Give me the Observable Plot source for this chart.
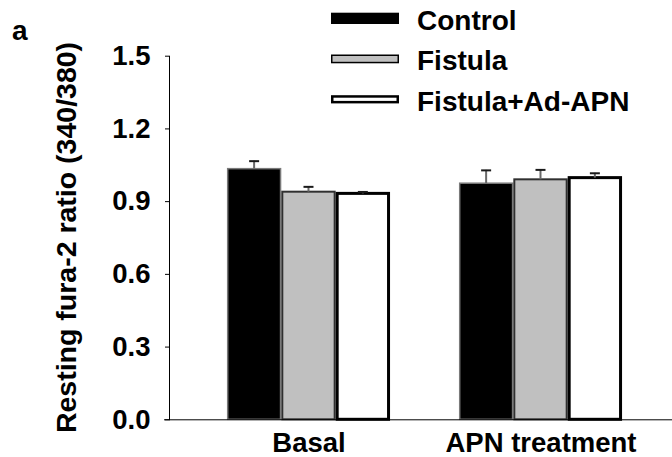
<!DOCTYPE html>
<html><head><meta charset="utf-8">
<script src="https://cdn.jsdelivr.net/npm/d3@7"></script>
<script src="https://cdn.jsdelivr.net/npm/@observablehq/plot@0.6"></script>
<style>body{margin:0;background:#fff} #chart{width:672px;height:457px}</style>
</head><body><div id="chart"></div>
<script>
const groups = ["Basal", "APN treatment"];
const series = ["Control", "Fistula", "Fistula+Ad-APN"];
const basalValues = [1.034, 0.939, 0.932];
const basalErrors = [0.033, 0.022, 0.008];
const apnValues = [0.974, 0.990, 0.997];
const apnErrors = [0.055, 0.041, 0.020];
const yTicks = [0, 0.3, 0.6, 0.9, 1.2, 1.5];
const yLabel = "Resting fura-2 ratio (340/380)";
const panelLabel = "a";

const data = [];
groups.forEach((g, gi) => series.forEach((s, si) => data.push({
  group: g, series: s,
  value: (gi ? apnValues : basalValues)[si],
  error: (gi ? apnErrors : basalErrors)[si]
})));

const FONT = "'Liberation Sans', Arial, Helvetica, sans-serif";
const W = 672, H = 457, mL = 169, mR = 0, mT = 55.7, mB = 37.7;
const padInner = 0.297, padOuter = 0.2325, align = 0.537;
const band = d3.scaleBand(groups, [mL, W - mR]).paddingInner(padInner).paddingOuter(padOuter).align(align);
const bw = band.bandwidth();
const barW = bw / 3;

const fills = ["#000000", "#c0c0c0", "#ffffff"];
const strokes = ["#7a7a7a", "#303030", "#000000"];
const strokeWidths = [1.5, 2, 3];

const marks = [];
series.forEach((s, i) => {
  const d = data.filter(r => r.series === s);
  marks.push(Plot.barY(d, {
    x: "group", y: "value", fill: fills[i], stroke: strokes[i], strokeWidth: strokeWidths[i],
    insetLeft: barW * i + strokeWidths[i] / 2, insetRight: bw - barW * (i + 1) + strokeWidths[i] / 2
  }));
});
series.forEach((s, i) => {
  const d = data.filter(r => r.series === s);
  const c = barW * (i + 0.5);
  marks.push(Plot.barY(d, {
    x: "group", y1: "value", y2: r => r.value + r.error, fill: "#6a6a6a",
    insetLeft: c - 1, insetRight: bw - c - 1
  }));
  marks.push(Plot.tickY(d, {
    x: "group", y: r => r.value + r.error, stroke: "#1a1a1a", strokeWidth: 2,
    insetLeft: c - 5, insetRight: bw - c - 5
  }));
});

const plot = Plot.plot({
  width: W, height: H,
  marginLeft: mL, marginRight: mR, marginTop: mT, marginBottom: mB,
  style: {fontFamily: FONT, fontWeight: "bold", fontSize: "27px", color: "#000", background: "#fff"},
  x: {domain: groups, paddingInner: padInner, paddingOuter: padOuter, align: align, round: false},
  y: {domain: [0, 1.5]},
  marks: [
    ...marks,
    Plot.axisY(yTicks, {tickSize: 4, tickPadding: 15, tickFormat: d3.format(".1f"), fontSize: 27.5, fontWeight: "bold", label: null}),
    Plot.axisX({tickSize: 0, tickPadding: 13, fontSize: 27.5, fontWeight: "bold", label: null}),
    Plot.ruleY([0], {insetLeft: -5, stroke: "#000"}),
    Plot.frame({anchor: "left", stroke: "#000"})
  ]
});
document.getElementById("chart").appendChild(plot);

// legend, panel letter and y label
const svg = d3.select(plot);
const g = svg.append("g").attr("font-family", FONT).attr("font-weight", "bold")
  .attr("font-size", 28).attr("fill", "#000").attr("text-anchor", "start");
const swatches = [
  {y: 12.7, h: 11.3, sw: 0},
  {y: 54.5, h: 8.8, sw: 1.5},
  {y: 95.2, h: 8.2, sw: 2.5}
];
const baselines = [29.5, 70, 110.5];
series.forEach((s, i) => {
  const sw = swatches[i];
  g.append("rect").attr("x", 331 + sw.sw / 2).attr("y", sw.y + sw.sw / 2)
    .attr("width", 68 - sw.sw).attr("height", sw.h - sw.sw)
    .attr("fill", fills[i]).attr("stroke", i === 0 ? "none" : "#000").attr("stroke-width", sw.sw);
  g.append("text").attr("x", 417).attr("y", baselines[i]).attr("text-anchor", "start").text(s);
});
g.append("text").attr("x", 12).attr("y", 40).attr("text-anchor", "start").text(panelLabel);
g.append("text").attr("transform", `translate(76,${(mT + (H - mB)) / 2}) rotate(-90)`)
  .attr("text-anchor", "middle").attr("font-size", 28.5).text(yLabel);
</script>
</body></html>
